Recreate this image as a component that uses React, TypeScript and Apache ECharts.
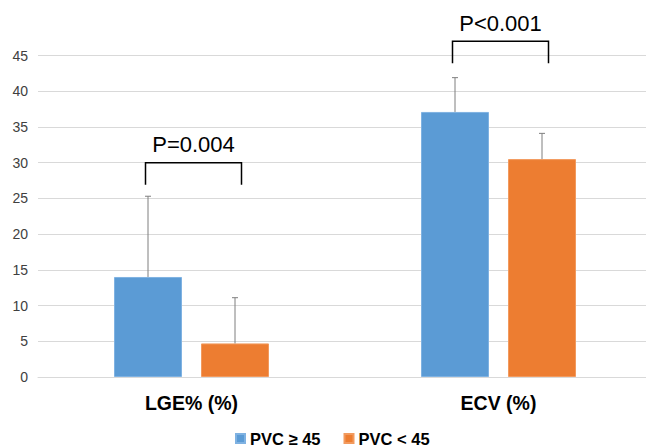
import React, { useEffect, useRef } from "react";
import * as echarts from "echarts";

const categories = ["LGE% (%)", "ECV (%)"];
const seriesNames = ["PVC ≥ 45", "PVC < 45"];
const highValues = [14.0, 37.1];
const highErrTop = [25.3, 41.9];
const lowValues = [4.7, 30.5];
const lowErrTop = [11.1, 34.1];
const yTicks = [0, 5, 10, 15, 20, 25, 30, 35, 40, 45];
const bracketLevels = [30, 47];
const pLabels = ["P=0.004", "P<0.001"];

const BAR_W = 68;
const BAR_GAP_PX = 19;
const FONT = "'Liberation Sans', Arial, sans-serif";

export default function App() {
  const ref = useRef<HTMLDivElement>(null);
  useEffect(() => {
    if (!ref.current) return;
    const chart = echarts.init(ref.current, undefined, { renderer: "svg" });
    const off = (BAR_W + BAR_GAP_PX) / 2;

    const errData: any[] = [];
    categories.forEach((c, i) => {
      errData.push([i, highValues[i], highErrTop[i], -1]);
      errData.push([i, lowValues[i], lowErrTop[i], 1]);
    });

    const bracketData = categories.map((c, i) => [i, bracketLevels[i], pLabels[i]]);

    chart.setOption({
      animation: false,
      grid: { left: 38, top: 55.5, width: 614, height: 321.5, containLabel: false },
      legend: {
        left: 230,
        top: 425,
        itemWidth: 9,
        itemHeight: 9,
        itemGap: 23,
        icon: "rect",
        data: seriesNames,
        textStyle: {
          fontFamily: FONT,
          fontSize: 16.5,
          lineHeight: 16,
          fontWeight: "bold",
          color: "#000",
        },
      },
      xAxis: {
        type: "category",
        data: categories,
        axisLine: { show: true, lineStyle: { color: "#d9d9d9", width: 1 } },
        axisTick: { show: false },
        axisLabel: {
          margin: 16,
          fontFamily: FONT,
          fontSize: 19.5,
          fontWeight: "bold",
          color: "#000",
        },
      },
      yAxis: {
        type: "value",
        min: yTicks[0],
        max: yTicks[yTicks.length - 1],
        interval: 5,
        axisLine: { show: false },
        axisTick: { show: false },
        splitLine: { lineStyle: { color: "#d9d9d9", width: 1 } },
        axisLabel: { margin: 10, fontFamily: FONT, fontSize: 14, color: "#404040" },
      },
      series: [
        {
          name: seriesNames[0],
          type: "bar",
          data: highValues,
          barWidth: BAR_W,
          barGap: (BAR_GAP_PX / BAR_W) * 100 + "%",
          itemStyle: { color: "#5B9BD5", borderColor: "#7FB2E2", borderWidth: 1 },
        },
        {
          name: seriesNames[1],
          type: "bar",
          data: lowValues,
          barWidth: BAR_W,
          itemStyle: { color: "#ED7D31", borderColor: "#F29A5E", borderWidth: 1 },
        },
        {
          type: "custom",
          silent: true,
          z: 5,
          clip: false,
          data: errData,
          renderItem: (params: any, api: any) => {
            const ci = api.value(0);
            const side = api.value(3);
            const base = api.coord([ci, api.value(1)]);
            const top = api.coord([ci, api.value(2)]);
            const x = base[0] + side * off;
            return {
              type: "group",
              children: [
                {
                  type: "line",
                  shape: { x1: x, y1: base[1], x2: x, y2: top[1] },
                  style: { stroke: "#7f7f7f", lineWidth: 1 },
                },
                {
                  type: "line",
                  shape: { x1: x - 3, y1: top[1], x2: x + 3, y2: top[1] },
                  style: { stroke: "#7f7f7f", lineWidth: 1 },
                },
              ],
            };
          },
        },
        {
          type: "custom",
          silent: true,
          z: 6,
          clip: false,
          data: bracketData,
          renderItem: (params: any, api: any) => {
            const ci = api.value(0);
            const p = api.coord([ci, api.value(1)]);
            const label = pLabels[params.dataIndex];
            const xl = p[0] - 46;
            const xr = p[0] + 50;
            const y = p[1];
            return {
              type: "group",
              children: [
                {
                  type: "polyline",
                  shape: { points: [[xl, y + 22], [xl, y], [xr, y], [xr, y + 22]] },
                  style: { stroke: "#000", lineWidth: 1.5, fill: "none" },
                },
                {
                  type: "text",
                  style: {
                    text: label,
                    x: (xl + xr) / 2,
                    y: y - 18,
                    align: "center",
                    verticalAlign: "middle",
                    fontFamily: FONT,
                    fontSize: 22,
                    fill: "#000",
                  },
                },
              ],
            };
          },
        },
      ],
    });
    return () => chart.dispose();
  }, []);
  return (
    <div
      ref={ref}
      style={{ position: "fixed", left: 0, top: 0, width: 660, height: 446, background: "#fff" }}
    />
  );
}
